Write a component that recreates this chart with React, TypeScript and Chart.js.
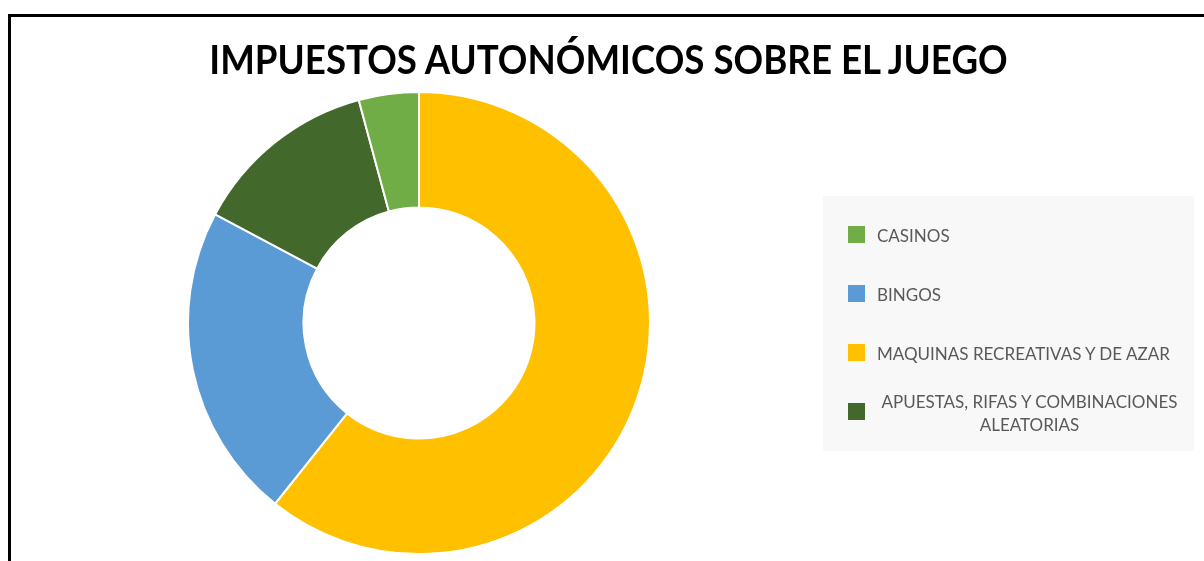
import React, { useEffect, useRef } from "react";
import { Chart, registerables } from "chart.js";

Chart.register(...registerables);

const titleText = "IMPUESTOS AUTONÓMICOS SOBRE EL JUEGO";

// Legend order
const categories = [
  "CASINOS",
  "BINGOS",
  "MAQUINAS RECREATIVAS Y DE AZAR",
  "APUESTAS, RIFAS Y COMBINACIONES ALEATORIAS",
];
const values = [4.2, 22.1, 60.7, 13.0];
const colors = ["#70AD47", "#5B9BD5", "#FFC000", "#43682B"];
// Order in which slices are drawn clockwise from the top
const sliceOrder = [2, 1, 3, 0];

export default function App() {
  const ref = useRef<HTMLCanvasElement | null>(null);

  useEffect(() => {
    if (!ref.current) return;
    const chart = new Chart(ref.current, {
      type: "doughnut",
      data: {
        labels: sliceOrder.map((i) => categories[i]),
        datasets: [
          {
            data: sliceOrder.map((i) => values[i]),
            backgroundColor: sliceOrder.map((i) => colors[i]),
            borderColor: "#ffffff",
            borderWidth: 2,
            hoverOffset: 0,
            offset: 0,
          },
        ],
      },
      options: {
        responsive: false,
        maintainAspectRatio: false,
        animation: false,
        cutout: "50%",
        rotation: 0,
        layout: { padding: 0 },
        plugins: {
          legend: { display: false },
          title: { display: false },
          tooltip: { enabled: false },
        },
      },
    });
    return () => chart.destroy();
  }, []);

  const itemCenters = [234.5, 293.5, 352.5, 411.5];

  return (
    <div style={{ position: "relative", width: 1196, height: 545, overflow: "hidden" }}>
      <div
        style={{
          position: "fixed",
          left: 8,
          top: 14,
          width: 1196,
          height: 547,
          borderTop: "3px solid #000",
          borderLeft: "3px solid #000",
          boxSizing: "border-box",
        }}
      />
      <div
        style={{
          position: "absolute",
          left: 0,
          top: 27,
          width: 1201,
          textAlign: "center",
          fontFamily: "Lato, 'Open Sans', sans-serif",
          fontWeight: 700,
          fontSize: 41,
          lineHeight: "48px",
          color: "#000",
          whiteSpace: "nowrap",
          transform: "scaleX(0.895)",
          transformOrigin: "600.5px 50%",
        }}
      >
        {titleText}
      </div>
      <canvas
        ref={ref}
        width={464}
        height={464}
        style={{ position: "absolute", left: 179, top: 83, width: 464, height: 464 }}
      />
      <div
        style={{
          position: "absolute",
          left: 815,
          top: 188,
          width: 371,
          height: 255,
          background: "#F8F8F8",
        }}
      />
      {categories.map((c, i) => (
        <React.Fragment key={c}>
          <div
            style={{
              position: "absolute",
              left: 840,
              top: itemCenters[i] - 8 - 8.5,
              width: 17,
              height: 17,
              background: colors[i],
            }}
          />
          <div
            style={{
              position: "absolute",
              left: 869,
              top: itemCenters[i] - 8 - 40 + 1,
              height: 80,
              width: 310,
              display: "flex",
              alignItems: "center",
            }}
          >
            <span
              style={{
                display: "inline-block",
                maxWidth: 305,
                textAlign: "center",
                fontFamily: "Lato, 'Open Sans', sans-serif",
                fontSize: 17,
                lineHeight: "23px",
                color: "#595959",
              }}
            >
              {c}
            </span>
          </div>
        </React.Fragment>
      ))}
    </div>
  );
}
